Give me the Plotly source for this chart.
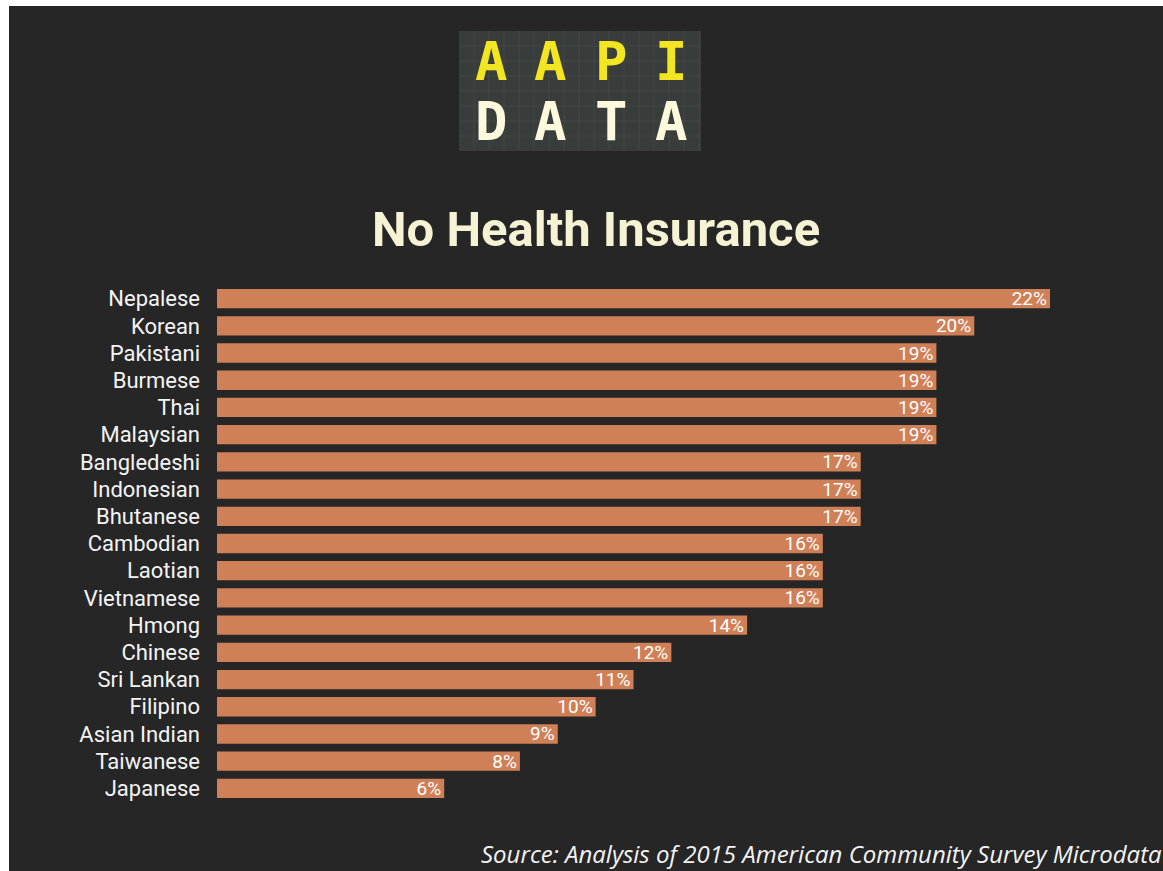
import plotly.graph_objects as go

# Share of each Asian American group without health insurance (%)
groups = ["Nepalese", "Korean", "Pakistani", "Burmese", "Thai", "Malaysian",
          "Bangledeshi", "Indonesian", "Bhutanese", "Cambodian", "Laotian",
          "Vietnamese", "Hmong", "Chinese", "Sri Lankan", "Filipino",
          "Asian Indian", "Taiwanese", "Japanese"]
uninsured_pct = [22, 20, 19, 19, 19, 19, 17, 17, 17, 16, 16, 16, 14, 12, 11, 10, 9, 8, 6]

logo_top = ["A", "A", "P", "I"]
logo_bottom = ["D", "A", "T", "A"]

W, H = 1163, 871
L, R, T, B = 217, 1050, 285, 802

BG = "#262626"
BAR = "#cf8057"
CREAM = "#f6f3d4"


def fx(px):
    return (px - L) / (R - L)


def fy(py):
    return (B - py) / (B - T)


fig = go.Figure(go.Bar(
    y=groups,
    x=uninsured_pct,
    orientation="h",
    marker=dict(color=BAR, line=dict(width=0)),
    text=[f"{v}%" for v in uninsured_pct],
    textposition="inside",
    insidetextanchor="end",
    constraintext="none",
    textfont=dict(family="Roboto", size=19, color="#ffffff"),
    cliponaxis=False,
    hoverinfo="skip",
))

shapes = [
    # white frame strips at the top and left edges
    dict(type="rect", xref="paper", yref="paper", x0=fx(0), x1=fx(W), y0=fy(0), y1=fy(6),
         fillcolor="#ffffff", line=dict(width=0), layer="below"),
    dict(type="rect", xref="paper", yref="paper", x0=fx(0), x1=fx(9), y0=fy(0), y1=fy(H),
         fillcolor="#ffffff", line=dict(width=0), layer="below"),
    # logo tile
    dict(type="rect", xref="paper", yref="paper", x0=fx(459), x1=fx(701), y0=fy(151), y1=fy(31),
         fillcolor="#383c3b", line=dict(width=0), layer="below"),
]
# faint grid inside the logo tile
for gx in range(474, 701, 15):
    shapes.append(dict(type="line", xref="paper", yref="paper", x0=fx(gx), x1=fx(gx),
                       y0=fy(151), y1=fy(31), line=dict(color="#424746", width=1), layer="below"))
for gy in range(46, 151, 15):
    shapes.append(dict(type="line", xref="paper", yref="paper", x0=fx(459), x1=fx(701),
                       y0=fy(gy), y1=fy(gy), line=dict(color="#424746", width=1), layer="below"))

annotations = []
cols = [491, 550, 611, 671]
for ch, cx in zip(logo_top, cols):
    annotations.append(dict(text=f"<b>{ch}</b>", x=fx(cx), y=fy(61), xref="paper", yref="paper",
                            showarrow=False, xanchor="center", yanchor="middle",
                            font=dict(family="DejaVu Sans Mono", size=54, color="#f2e522")))
for ch, cx in zip(logo_bottom, cols):
    annotations.append(dict(text=f"<b>{ch}</b>", x=fx(cx), y=fy(121), xref="paper", yref="paper",
                            showarrow=False, xanchor="center", yanchor="middle",
                            font=dict(family="DejaVu Sans Mono", size=54, color="#fdf9dc")))

annotations.append(dict(text="<b>No Health Insurance</b>", x=fx(596), y=fy(230),
                        xref="paper", yref="paper", showarrow=False,
                        xanchor="center", yanchor="middle",
                        font=dict(family="Roboto", size=49, color=CREAM)))

annotations.append(dict(text="<i>Source: Analysis of 2015 American Community Survey Microdata</i>",
                        x=fx(1164), y=fy(853), xref="paper", yref="paper", showarrow=False,
                        xanchor="right", yanchor="middle",
                        font=dict(family="Open Sans", size=24, color="#f4f4f4")))

fig.update_layout(
    width=W, height=H,
    margin=dict(l=L, r=W - R, t=T, b=H - B, pad=0),
    paper_bgcolor=BG,
    plot_bgcolor=BG,
    bargap=0.29,
    showlegend=False,
    shapes=shapes,
    annotations=annotations,
)
fig.update_xaxes(range=[0, 22], visible=False, fixedrange=True)
fig.update_yaxes(autorange="reversed", showgrid=False, zeroline=False, showline=False,
                 ticks="", ticklabelstandoff=16,
                 tickfont=dict(family="Roboto", size=22, color="#f4f4f4"))

fig.write_html("out.html")
